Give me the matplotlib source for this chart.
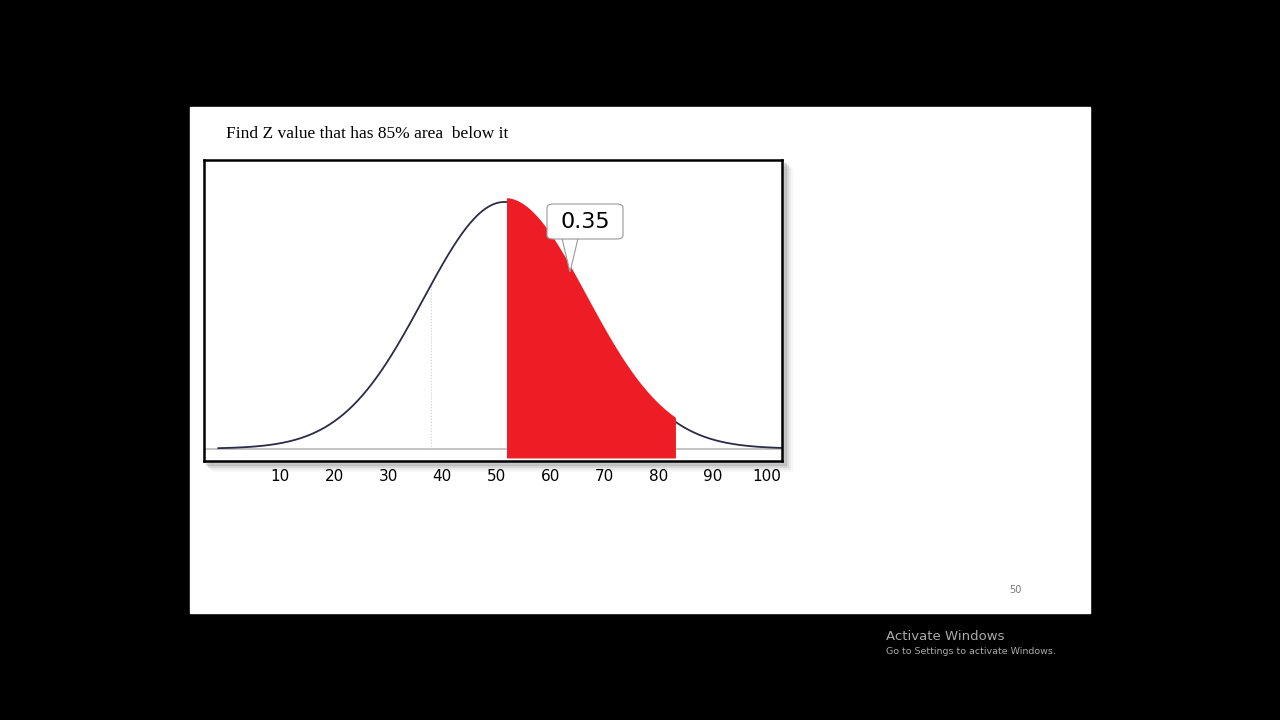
import numpy as np
import matplotlib.pyplot as plt
from matplotlib.patches import Rectangle, FancyBboxPatch, Polygon

W, H = 1280, 720

# data
mean, sd = 51.5, 15.0
tick_values = [10, 20, 30, 40, 50, 60, 70, 80, 90, 100]
shade_from, shade_to = 52, 83
callout_text = "0.35"
title = "Find Z value that has 85% area  below it"
page_no = "50"


def box(x, y, w, h):
    # pixel box (top-left origin) -> figure fraction
    return [x / W, 1 - (y + h) / H, w / W, h / H]


fig = plt.figure(figsize=(12.8, 7.2), dpi=100, facecolor="black")

# white slide
fig.patches.append(Rectangle((190 / W, 1 - 613 / H), 900 / W, 506 / H,
                             transform=fig.transFigure, color="white", zorder=-2))
# soft shadow behind chart box
for i, a in enumerate([0.10, 0.07, 0.04, 0.02]):
    fig.patches.append(Rectangle(((206 + 2 * i) / W, 1 - (465 + 2 * i) / H), 580 / W, 302 / H,
                                 transform=fig.transFigure, color="black", alpha=a, zorder=-1))

fig.text(226 / W, 1 - 134 / H, title, fontsize=12.5, family="Liberation Serif",
         va="center", ha="left")
fig.text(1015 / W, 1 - 590 / H, page_no, fontsize=7, color="#777777", ha="center", va="center")
fig.text(886 / W, 1 - 636 / H, "Activate Windows", fontsize=9.5, color="#aaaaaa", va="center")
fig.text(886 / W, 1 - 652 / H, "Go to Settings to activate Windows.", fontsize=6.8,
         color="#aaaaaa", va="center")

ax = fig.add_axes(box(204, 160, 578, 301))
ax.set_zorder(1)
ax.set_facecolor("white")
x0, x1 = -4.05, 102.8
ax.set_xlim(x0, x1)
peak = 1 / (sd * np.sqrt(2 * np.pi))
ax.set_ylim(-peak * 0.05, peak * 1.17)

x = np.linspace(-1.4, x1, 600)
y = np.exp(-0.5 * ((x - mean) / sd) ** 2) / (sd * np.sqrt(2 * np.pi))
ax.axhline(0, color="#bbbbbb", lw=1.2)
ax.plot([38, 38], [0, np.interp(38, x, y)], color="#cccccc", lw=0.8, ls=":")
ax.plot(x, y, color="#2b2b4a", lw=1.3)

m = (x >= shade_from) & (x <= shade_to)
ax.fill_between(x[m], -peak * 0.035, y[m] + peak * 0.015, color="#ee1c24", zorder=3)

for s in ax.spines.values():
    s.set_linewidth(1.8)
ax.set_yticks([])
ax.set_xticks(tick_values)
ax.set_xticklabels([str(t) for t in tick_values], fontsize=11)
ax.tick_params(axis="x", length=0, pad=6)

# callout
fig.patches.append(FancyBboxPatch((547 / W, 1 - 239 / H), 76 / W, 35 / H,
                                  boxstyle="round,pad=0,rounding_size=0.005",
                                  transform=fig.transFigure, facecolor="white",
                                  edgecolor="#999999", lw=0.8, zorder=5))
fig.patches.append(Polygon([(562 / W, 1 - 238.5 / H), (570 / W, 1 - 272 / H), (578 / W, 1 - 238.5 / H)],
                           transform=fig.transFigure, facecolor="white",
                           edgecolor="#999999", lw=0.8, zorder=4))
fig.text(585 / W, 1 - 222 / H, callout_text, fontsize=16, ha="center", va="center", zorder=6)

fig.savefig("out.png", dpi=100, facecolor="black")
